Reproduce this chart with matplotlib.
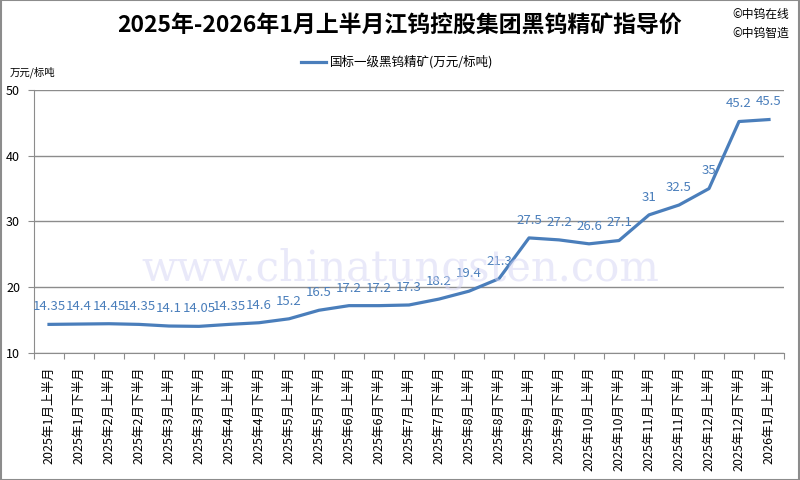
import matplotlib
matplotlib.use("Agg")
import matplotlib.pyplot as plt

plt.rcParams['font.family'] = ['Noto Sans CJK SC', 'DejaVu Sans']

categories = ["2025年1月上半月", "2025年1月下半月", "2025年2月上半月", "2025年2月下半月",
              "2025年3月上半月", "2025年3月下半月", "2025年4月上半月", "2025年4月下半月",
              "2025年5月上半月", "2025年5月下半月", "2025年6月上半月", "2025年6月下半月",
              "2025年7月上半月", "2025年7月下半月", "2025年8月上半月", "2025年8月下半月",
              "2025年9月上半月", "2025年9月下半月", "2025年10月上半月", "2025年10月下半月",
              "2025年11月上半月", "2025年11月下半月", "2025年12月上半月", "2025年12月下半月",
              "2026年1月上半月"]
values = [14.35, 14.4, 14.45, 14.35, 14.1, 14.05, 14.35, 14.6, 15.2, 16.5, 17.2, 17.2,
          17.3, 18.2, 19.4, 21.3, 27.5, 27.2, 26.6, 27.1, 31, 32.5, 35, 45.2, 45.5]
labels = ["14.35", "14.4", "14.45", "14.35", "14.1", "14.05", "14.35", "14.6", "15.2", "16.5",
          "17.2", "17.2", "17.3", "18.2", "19.4", "21.3", "27.5", "27.2", "26.6", "27.1",
          "31", "32.5", "35", "45.2", "45.5"]
yticks = [10, 20, 30, 40, 50]
series_name = "国标一级黑钨精矿(万元/标吨)"
title = "2025年-2026年1月上半月江钨控股集团黑钨精矿指导价"
unit = "万元/标吨"

line_color = "#4A7EBB"
label_color = "#4A7EBB"

fig = plt.figure(figsize=(8, 4.8), dpi=100)
ax = fig.add_axes([0.0425, 0.2646, 0.9375, 0.548])

x = list(range(len(categories)))
ax.plot(x, values, color=line_color, lw=2.3, solid_joinstyle='round', zorder=3)
for xi, v, lab in zip(x, values, labels):
    ax.annotate(lab, (xi, v), xytext=(0, 8), textcoords='offset points',
                ha='center', va='bottom', fontsize=9.5, color=label_color, zorder=4)

ax.set_xlim(-0.5, len(categories) - 0.5)
ax.set_ylim(10, 50)
ax.set_yticks(yticks)
ax.set_yticklabels([str(t) for t in yticks], fontsize=9)
ax.yaxis.grid(True, color="#8C8C8C", lw=1)
ax.set_axisbelow(True)

ax.set_xticks([i - 0.5 for i in range(len(categories) + 1)])
ax.set_xticklabels([])
ax.set_xticks(x, minor=True)
ax.set_xticklabels(categories, minor=True, rotation=90, fontsize=9, va='top', ha='center')
ax.tick_params(axis='x', which='minor', length=0, pad=10)
ax.tick_params(axis='x', which='major', length=4, color="#8C8C8C")
ax.tick_params(axis='y', length=4, color="#8C8C8C", pad=6)

for s in ['top', 'right']:
    ax.spines[s].set_visible(False)
ax.spines['left'].set_color("#8C8C8C")
ax.spines['bottom'].set_color("#8C8C8C")

# watermark
fig.text(0.5, 0.44, "www.chinatungsten.com", ha='center', va='center', fontsize=30,
         color="#D4D4F4", alpha=0.5, family='DejaVu Serif', zorder=0)

fig.text(0.5, 0.945, title, ha='center', va='center', fontsize=16.5, fontweight='bold')
fig.text(0.915, 0.97, "©中钨在线", ha='left', va='center', fontsize=8.5)
fig.text(0.915, 0.93, "©中钨智造", ha='left', va='center', fontsize=8.5)
fig.text(0.0125, 0.85, unit, ha='left', va='center', fontsize=7.5)

fig.lines.append(plt.Line2D([0.376, 0.407], [0.871, 0.871], transform=fig.transFigure,
                            color=line_color, lw=2.3))
fig.text(0.412, 0.871, series_name, ha='left', va='center', fontsize=9)

fig.patches.append(plt.Rectangle((0.001, 0.001), 0.998, 0.998, transform=fig.transFigure,
                                 fill=False, edgecolor="#8C8C8C", lw=1.5))

fig.savefig("out.png", dpi=100)
